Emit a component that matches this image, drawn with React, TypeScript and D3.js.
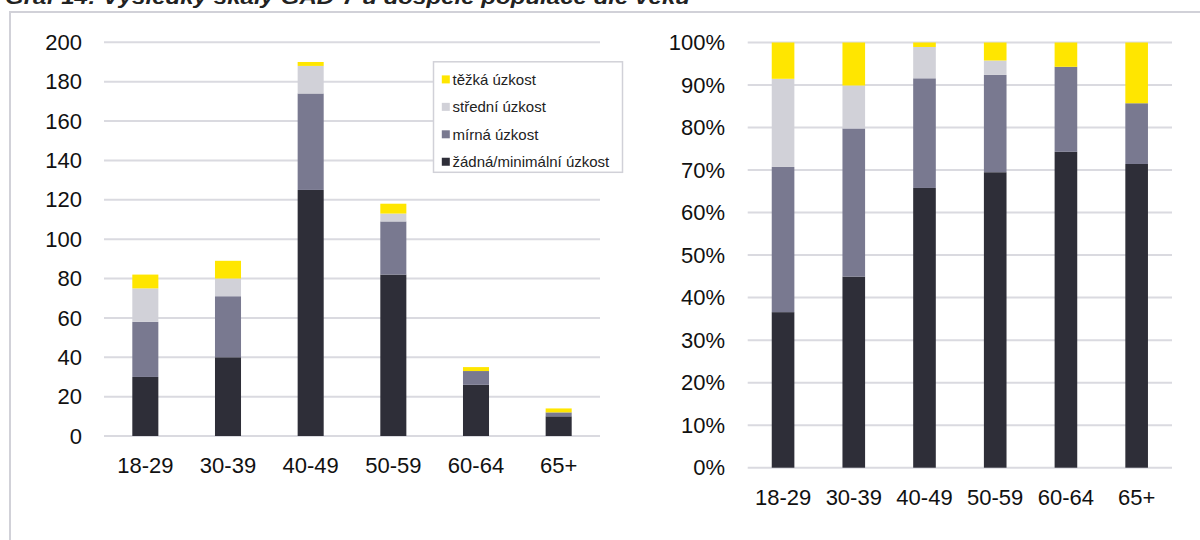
import React from 'react';
import * as d3 from 'd3';

// Age groups and GAD-7 counts per severity level
const categories = ['18-29', '30-39', '40-49', '50-59', '60-64', '65+'];
const noneAnxiety = [30, 40, 125, 82, 26, 10];
const mildAnxiety = [28, 31, 49, 27, 7, 2];
const moderateAnxiety = [17, 9, 14, 4, 0, 0];
const severeAnxiety = [7, 9, 2, 5, 2, 2];

const seriesKeys = ['none', 'mild', 'moderate', 'severe'];
const seriesLabels: Record<string, string> = {
  none: 'žádná/minimální úzkost',
  mild: 'mírná úzkost',
  moderate: 'střední úzkost',
  severe: 'těžká úzkost',
};
const seriesColors: Record<string, string> = {
  none: '#2e2e38',
  mild: '#797990',
  moderate: '#d1d1d8',
  severe: '#ffe600',
};

const countTicks = [0, 20, 40, 60, 80, 100, 120, 140, 160, 180, 200];

const FONT = '"Liberation Sans", Arial, sans-serif';
const GRID = '#dadae0';

type Row = { cat: string; [k: string]: number | string };

const rows: Row[] = categories.map((c, i) => ({
  cat: c,
  none: noneAnxiety[i],
  mild: mildAnxiety[i],
  moderate: moderateAnxiety[i],
  severe: severeAnxiety[i],
}));

function StackedPanel({
  xRange,
  yRange,
  expand,
  labelX,
}: {
  xRange: [number, number];
  yRange: [number, number];
  expand: boolean;
  labelX: number;
}) {
  const stack = d3.stack<Row>().keys(seriesKeys).value((d, k) => d[k] as number);
  if (expand) stack.offset(d3.stackOffsetExpand);
  const layers = stack(rows);

  const x = d3.scaleBand().domain(categories).range(xRange);
  const barW = x.bandwidth() * (expand ? 0.32 : 0.315);

  const y = d3.scaleLinear().domain(expand ? [0, 1] : [0, 200]).range(yRange);
  const ticks = expand ? y.ticks(10) : countTicks;
  const fmt = expand ? d3.format('.0%') : d3.format('d');

  return (
    <g>
      {/* grid */}
      {ticks.map((t) => (
        <g key={t}>
          <line x1={xRange[0]} x2={xRange[1]} y1={y(t)} y2={y(t)} stroke={GRID} strokeWidth={2} />
          <text
            x={labelX}
            y={y(t)}
            dy="0.35em"
            textAnchor="end"
            fontSize={22}
            fontFamily={FONT}
            fill="#111"
          >
            {fmt(t)}
          </text>
        </g>
      ))}

      {/* bars */}
      {layers.map((layer) => (
        <g key={layer.key} fill={seriesColors[layer.key]}>
          {layer.map((d, i) => {
            const h = y(d[0]) - y(d[1]);
            if (h <= 0.01) return null;
            return (
              <rect
                key={i}
                x={(x(categories[i]) as number) + (x.bandwidth() - barW) / 2}
                y={y(d[1])}
                width={barW}
                height={h}
              />
            );
          })}
        </g>
      ))}

      {/* category labels */}
      {categories.map((c) => (
        <text
          key={c}
          x={(x(c) as number) + x.bandwidth() / 2}
          y={yRange[0] + 37}
          textAnchor="middle"
          fontSize={22}
          fontFamily={FONT}
          fill="#111"
        >
          {c}
        </text>
      ))}
    </g>
  );
}

function Legend({ x0, y0 }: { x0: number; y0: number }) {
  const order = [...seriesKeys].reverse();
  return (
    <g>
      <rect x={x0} y={y0} width={189} height={110.5} fill="#fff" stroke="#d1d1d8" strokeWidth={1.5} />
      {order.map((k, i) => {
        const cy = y0 + 17.6 + i * 27.45;
        return (
          <g key={k}>
            <rect x={x0 + 8.3} y={cy - 4} width={8} height={8} fill={seriesColors[k]} />
            <text x={x0 + 19} y={cy} dy="0.35em" fontSize={15} fontFamily={FONT} fill="#222">
              {seriesLabels[k]}
            </text>
          </g>
        );
      })}
    </g>
  );
}

export default function App() {
  return (
    <div style={{ position: 'absolute', left: 0, top: 0, width: 1200, height: 540, background: '#fff' }}>
      <svg width={1200} height={540} style={{ display: 'block' }}>
        <rect width={1200} height={540} fill="#fff" />
        <text
          x={5}
          y={4}
          fontSize={20}
          fontWeight="bold"
          fontStyle="italic"
          fontFamily={FONT}
          fill="#222"
          textLength={685}
          lengthAdjust="spacingAndGlyphs"
        >
          Graf 14: Výsledky škály GAD-7 u dospělé populace dle věku
        </text>

        {/* frame */}
        <line x1={9} x2={1200} y1={12} y2={12} stroke="#d1d1d8" strokeWidth={2} />
        <line x1={10} x2={10} y1={11} y2={540} stroke="#d1d1d8" strokeWidth={2} />

        <StackedPanel xRange={[104, 600]} yRange={[436, 42.3]} expand={false} labelX={82} />
        <Legend x0={433.5} y0={61.8} />
        <StackedPanel xRange={[747.7, 1172]} yRange={[467.7, 42.5]} expand={true} labelX={725} />
      </svg>
    </div>
  );
}
